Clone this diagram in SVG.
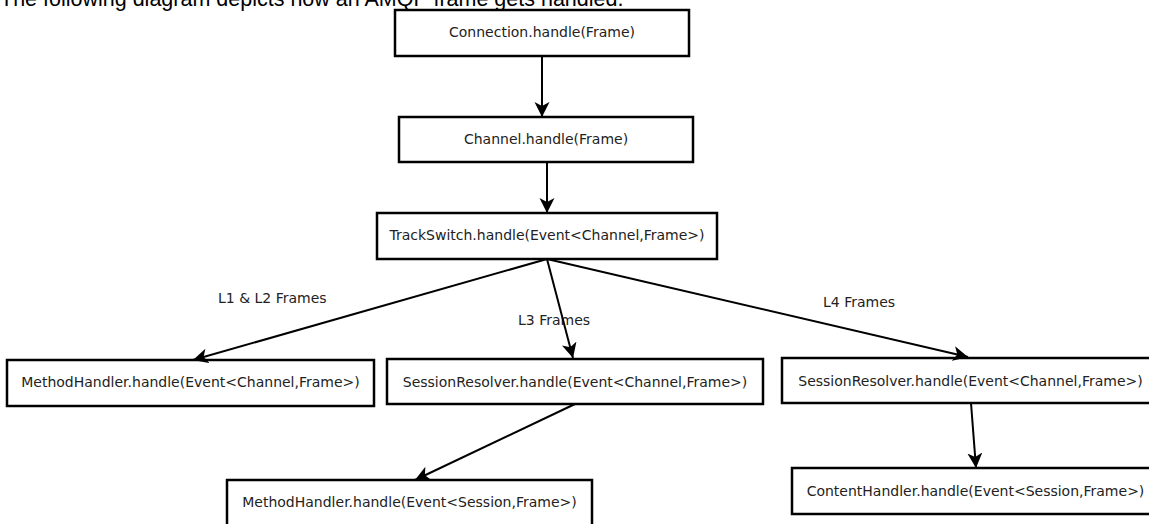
<svg xmlns="http://www.w3.org/2000/svg" width="1149" height="524" viewBox="0 0 1149 524">
  <style>
    .title { font-family: "Liberation Sans", Arial, sans-serif; font-size: 21.5px; fill: #000; }
    .box { fill: #fff; stroke: #000; stroke-width: 2.5; }
    .label { font-family: "DejaVu Sans", "Bitstream Vera Sans", sans-serif; font-size: 14px; fill: #222; }
    .node-text { font-family: "DejaVu Sans", "Bitstream Vera Sans", sans-serif; font-size: 14px; fill: #222; text-anchor: middle; }
    .edge { fill: none; stroke: #000; stroke-width: 2; marker-end: url(#arrow); }
  </style>
  <defs>
    <marker id="arrow" markerUnits="userSpaceOnUse" markerWidth="16" markerHeight="16" refX="15" refY="7.5" orient="auto">
      <path d="M0,0 L15,7.5 L0,15 L4,7.5 Z" fill="#000"/>
    </marker>
  </defs>

  <rect width="1149" height="524" fill="#fff"/>

  <text class="title" x="0" y="6">The following diagram depicts how an AMQP frame gets handled.</text>

  <!-- edge labels -->
  <g id="edge-labels">
    <text class="label" x="218" y="303">L1 &amp; L2 Frames</text>
    <text class="label" x="518" y="325">L3 Frames</text>
    <text class="label" x="823" y="307">L4 Frames</text>
  </g>

  <g id="connection">
    <rect class="box" x="395" y="10" width="294" height="46"/>
    <text class="node-text" x="542" y="37">Connection.handle(Frame)</text>
  </g>

  <g id="channel">
    <rect class="box" x="399" y="117" width="294" height="45"/>
    <text class="node-text" x="546" y="144">Channel.handle(Frame)</text>
  </g>

  <g id="trackswitch">
    <rect class="box" x="377" y="213" width="340" height="46"/>
    <text class="node-text" x="547" y="240">TrackSwitch.handle(Event&lt;Channel,Frame&gt;)</text>
  </g>

  <g id="method-handler-channel">
    <rect class="box" x="7" y="360" width="367" height="46"/>
    <text class="node-text" x="190.5" y="387">MethodHandler.handle(Event&lt;Channel,Frame&gt;)</text>
  </g>

  <g id="session-resolver-l3">
    <rect class="box" x="387" y="359" width="376" height="45"/>
    <text class="node-text" x="575" y="387">SessionResolver.handle(Event&lt;Channel,Frame&gt;)</text>
  </g>

  <g id="session-resolver-l4">
    <rect class="box" x="782" y="358" width="377" height="45"/>
    <text class="node-text" x="970.5" y="386">SessionResolver.handle(Event&lt;Channel,Frame&gt;)</text>
  </g>

  <g id="method-handler-session">
    <rect class="box" x="227" y="480" width="365" height="47"/>
    <text class="node-text" x="409.5" y="507">MethodHandler.handle(Event&lt;Session,Frame&gt;)</text>
  </g>

  <g id="content-handler">
    <rect class="box" x="792" y="468" width="367" height="46"/>
    <text class="node-text" x="975.5" y="496">ContentHandler.handle(Event&lt;Session,Frame&gt;)</text>
  </g>

  <!-- connectors -->
  <g id="connectors">
    <path class="edge" d="M542,56 L542,117"/>
    <path class="edge" d="M547,162 L547,213"/>
    <path class="edge" d="M547,259 L193,360"/>
    <path class="edge" d="M547,259 L573,358"/>
    <path class="edge" d="M547,259 L968,357"/>
    <path class="edge" d="M575,404 L415,480"/>
    <path class="edge" d="M971,403 L976,468"/>
  </g>
</svg>
